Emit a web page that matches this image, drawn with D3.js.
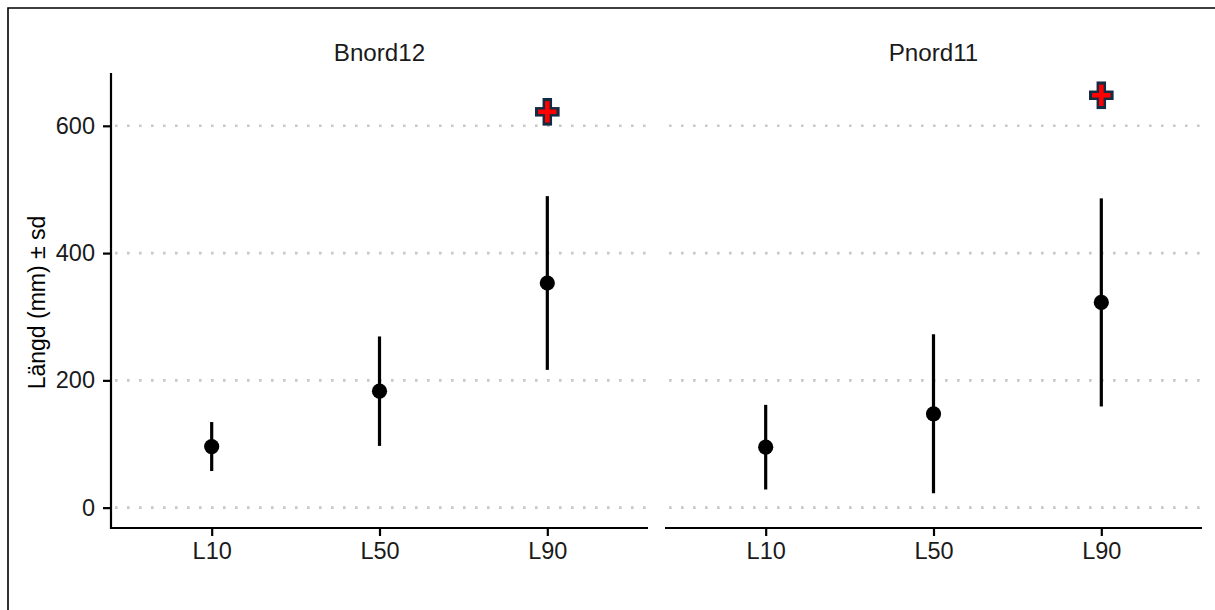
<!DOCTYPE html>
<html>
<head>
<meta charset="utf-8">
<script src="https://cdn.jsdelivr.net/npm/d3@7"></script>
<style>
  html, body { margin: 0; padding: 0; background: #ffffff; overflow: hidden; }
  svg { display: block; font-family: "Liberation Sans", Arial, sans-serif; }
</style>
</head>
<body>
<svg id="chart" width="1215" height="610"></svg>
<script>
// Length quantiles per site: mean ± sd
const panels = ["Bnord12", "Pnord11"];
const categories = ["L10", "L50", "L90"];
const meanBnord12 = [96, 183, 353];
const sdBnord12 = [38.5, 86, 136.5];
const meanPnord11 = [95, 147.5, 322.5];
const sdPnord11 = [66.5, 125, 163.5];
// Highlighted reference value per site (at L90)
const markCategory = "L90";
const markValues = [622, 648];
const yTicks = [0, 200, 400, 600];
const yLabel = "Längd (mm) ± sd";

const series = [
  { name: panels[0], mean: meanBnord12, sd: sdBnord12, mark: markValues[0] },
  { name: panels[1], mean: meanPnord11, sd: sdPnord11, mark: markValues[1] }
];

const svg = d3.select("#chart");

// outer frame: left and top edges
svg.append("path")
  .attr("d", "M8,610 L8,8 L1215,8")
  .attr("fill", "none").attr("stroke", "#000").attr("stroke-width", 1.6);

const plotTop = 73, plotBottom = 528;
const panelX = [[111, 648], [665, 1202]];

const y = d3.scaleLinear().domain([-32, 683]).range([plotBottom, plotTop]);

const fontSize = 23.5;
const textColor = "#1a1a1a";

series.forEach((s, i) => {
  const [x0, x1] = panelX[i];
  const x = d3.scalePoint().domain(categories).range([x0, x1]).padding(0.6);
  const g = svg.append("g");

  // dotted horizontal grid
  g.selectAll("line.grid").data(yTicks).enter().append("line")
    .attr("class", "grid")
    .attr("x1", x0 + 4).attr("x2", x1)
    .attr("y1", d => y(d)).attr("y2", d => y(d))
    .attr("stroke", "#c8c8c8")
    .attr("stroke-width", 2.6)
    .attr("stroke-dasharray", "2.6 9.4");

  // strip title
  g.append("text")
    .attr("x", (x0 + x1) / 2).attr("y", 52)
    .attr("text-anchor", "middle").attr("dominant-baseline", "central")
    .attr("font-size", 24.2).attr("fill", textColor)
    .text(s.name);

  // x axis
  const xAxis = g.append("g")
    .attr("transform", `translate(0,${plotBottom})`)
    .call(d3.axisBottom(x).tickSizeOuter(0).tickSize(8).tickPadding(6));
  xAxis.select(".domain").remove();
  xAxis.append("line")
    .attr("x1", x0).attr("x2", x1).attr("y1", 0).attr("y2", 0)
    .attr("stroke", "#000").attr("stroke-width", 2.2);
  xAxis.selectAll(".tick line").attr("stroke", "#000").attr("stroke-width", 2.2);
  xAxis.selectAll(".tick text")
    .attr("font-size", fontSize).attr("fill", textColor)
    .attr("font-family", "Liberation Sans, Arial, sans-serif");

  // y axis on the first panel only
  if (i === 0) {
    const yAxis = g.append("g")
      .attr("transform", `translate(${x0},0)`)
      .call(d3.axisLeft(y).tickValues(yTicks).tickSize(8).tickSizeOuter(0).tickPadding(8));
    yAxis.select(".domain").remove();
    yAxis.append("line")
      .attr("x1", 0).attr("x2", 0).attr("y1", plotTop).attr("y2", plotBottom + 1.1)
      .attr("stroke", "#000").attr("stroke-width", 2.2);
    yAxis.selectAll(".tick line").attr("stroke", "#000").attr("stroke-width", 2.2);
    yAxis.selectAll(".tick text")
      .attr("font-size", fontSize).attr("fill", textColor)
      .attr("font-family", "Liberation Sans, Arial, sans-serif");
  }

  const rows = categories.map((c, k) => ({ cat: c, mean: s.mean[k], sd: s.sd[k] }));

  // error bars
  g.selectAll("line.err").data(rows).enter().append("line")
    .attr("class", "err")
    .attr("x1", d => x(d.cat)).attr("x2", d => x(d.cat))
    .attr("y1", d => y(d.mean + d.sd)).attr("y2", d => y(d.mean - d.sd))
    .attr("stroke", "#000").attr("stroke-width", 3.2);

  // means
  g.selectAll("circle.mean").data(rows).enter().append("circle")
    .attr("class", "mean")
    .attr("cx", d => x(d.cat)).attr("cy", d => y(d.mean))
    .attr("r", 7.6).attr("fill", "#000");

  // highlighted cross marker
  const mx = x(markCategory), my = y(s.mark);
  const cross = g.append("g").attr("transform", `translate(${mx},${my})`);
  const drawPlus = (half, w, color) => {
    cross.append("line").attr("x1", -half).attr("x2", half).attr("y1", 0).attr("y2", 0)
      .attr("stroke", color).attr("stroke-width", w);
    cross.append("line").attr("x1", 0).attr("x2", 0).attr("y1", -half - 1.5).attr("y2", half + 1.5)
      .attr("stroke", color).attr("stroke-width", w);
  };
  drawPlus(12.3, 9.5, "#132B43");
  drawPlus(9.2, 4.6, "#ff0000");
});

// y axis title
svg.append("text")
  .attr("transform", `translate(37,${(plotTop + plotBottom) / 2 + 2}) rotate(-90)`)
  .attr("text-anchor", "middle").attr("dominant-baseline", "central")
  .attr("font-size", 23).attr("fill", "#000")
  .text(yLabel);
</script>
</body>
</html>
